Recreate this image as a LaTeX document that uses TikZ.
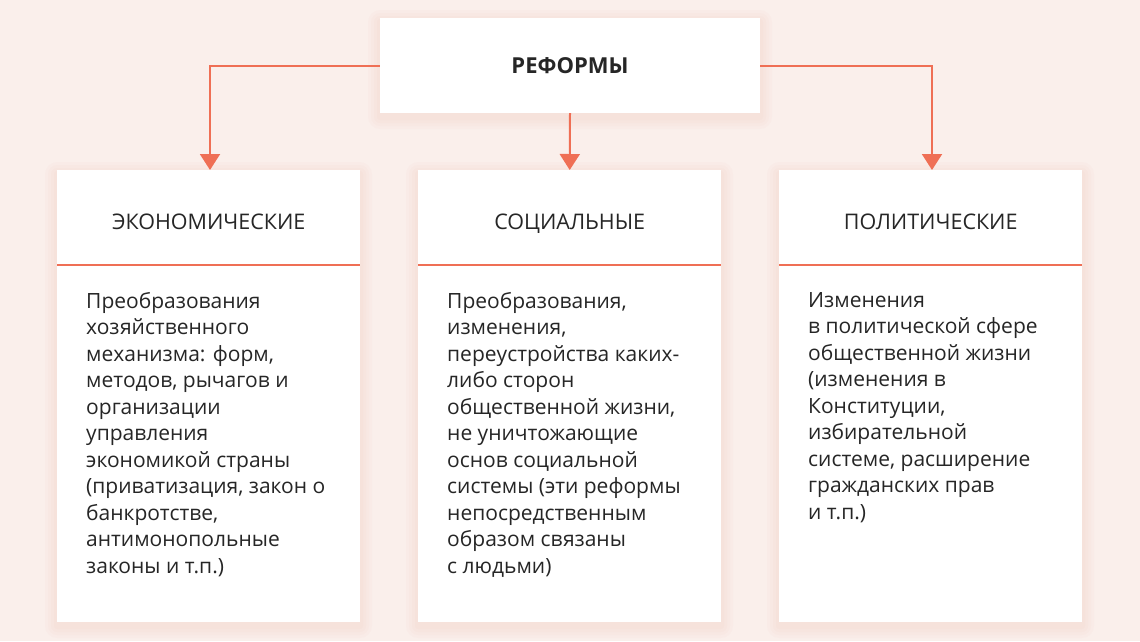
\documentclass[tikz,border=0pt]{standalone}
\usepackage{fontspec}
\setmainfont{Open Sans}
\usetikzlibrary{arrows.meta}
\definecolor{bg}{HTML}{FAEFEB}
\definecolor{acc}{HTML}{EF6F55}
\definecolor{txt}{HTML}{262626}
\begin{document}
\begin{tikzpicture}[x=1pt,y=-1pt,
  card/.style={fill=white},
  conn/.style={acc,line width=2pt,-{Triangle[length=16pt,width=20pt]}},
  head/.style={anchor=base,font=\fontsize{21.5}{24}\selectfont,text=txt},
  body/.style={anchor=north west,align=left,inner sep=0pt,text=txt,font=\fontsize{21}{26.5}\selectfont}]
\fill[bg] (0,0) rectangle (1140,641);
\useasboundingbox (0,0) rectangle (1140,641);
% shadows
\foreach \a/\b/\c/\d in {380/18/760/113,57/170/360/622,418/170/721/622,779/170/1082/622}{
  \foreach \k in {12,9,6,3}{\fill[acc,opacity=0.025,rounded corners=\k pt] (\a-\k,\b-\k+4) rectangle (\c+\k,\d+\k+4);}
}
\node[card,minimum width=380pt,minimum height=95pt,inner sep=0pt] (top) at (570,65.5) {};
\node[font=\fontsize{22}{24}\selectfont\bfseries,text=txt] at (top) {РЕФОРМЫ};
\node[card,minimum width=303pt,minimum height=452pt,inner sep=0pt,anchor=north west] (L) at (57,170) {};
\node[card,minimum width=303pt,minimum height=452pt,inner sep=0pt,anchor=north west] (M) at (418,170) {};
\node[card,minimum width=303pt,minimum height=452pt,inner sep=0pt,anchor=north west] (R) at (779,170) {};
\foreach \n in {L,M,R}{\draw[acc,line width=1.5pt] ([yshift=-95pt]\n.north west) -- ([yshift=-95pt]\n.north east);}
\node[head] at ([yshift=-59pt]L.north) {ЭКОНОМИЧЕСКИЕ};
\node[head] at ([yshift=-59pt]M.north) {СОЦИАЛЬНЫЕ};
\node[head] at ([yshift=-59pt]R.north) {ПОЛИТИЧЕСКИЕ};
\draw[conn] (top.west) -| (L.north -| 210,0);
\draw[conn] (top.south) -- (M.north);
\draw[conn] (top.east) -| (R.north -| 932,0);
\node[body] at (86,292) {Преобразования\\хозяйственного\\механизма: форм,\\методов, рычагов и\\организации\\управления\\экономикой страны\\(приватизация, закон о\\банкротстве,\\антимонопольные\\законы и т.п.)};
\node[body] at (447,292) {Преобразования,\\изменения,\\переустройства каких-\\либо сторон\\общественной жизни,\\не уничтожающие\\основ социальной\\системы (эти реформы\\непосредственным\\образом связаны\\с людьми)};
\node[body] at (808,292) {Изменения\\в политической сфере\\общественной жизни\\(изменения в\\Конституции,\\избирательной\\системе, расширение\\гражданских прав\\и т.п.)};
\end{tikzpicture}
\end{document}
